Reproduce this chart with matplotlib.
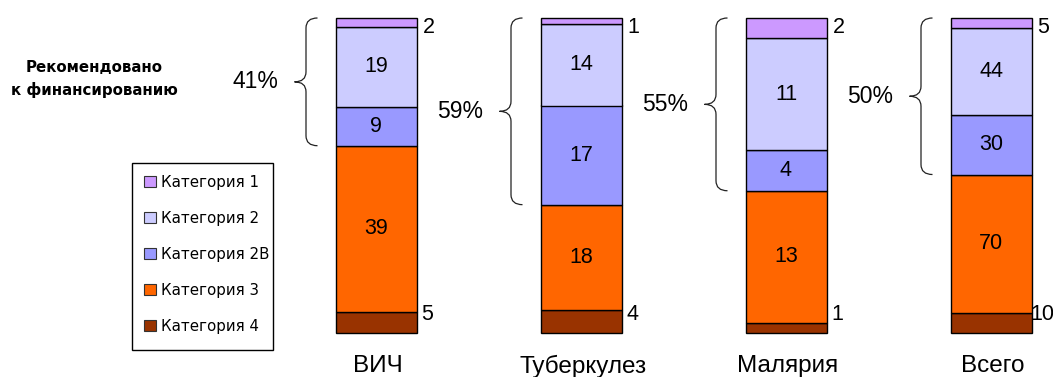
import numpy as np
import matplotlib
matplotlib.use('Agg')
import matplotlib.pyplot as plt
from matplotlib.patches import Patch, Rectangle, PathPatch
from matplotlib.path import Path

# data: number of proposals per category for each disease
groups = ['ВИЧ', 'Туберкулез', 'Малярия', 'Всего']
categories = ['Категория 4', 'Категория 3', 'Категория 2B', 'Категория 2', 'Категория 1']
cat4 = [5, 4, 1, 10]
cat3 = [39, 18, 13, 70]
cat2b = [9, 17, 4, 30]
cat2 = [19, 14, 11, 44]
cat1 = [2, 1, 2, 5]
colors = ['#993300', '#FF6600', '#9999FF', '#CCCCFF', '#CC99FF']

series = np.array([cat4, cat3, cat2b, cat2, cat1], dtype=float)
totals = series.sum(axis=0)
shares = series / totals  # every bar is normalised to 1

W, H = 1053, 377
fig = plt.figure(figsize=(W / 100, H / 100), dpi=100)
ax = fig.add_axes([0, 0, 1, 1])
py = 315.0  # pixels per unit of bar height
ax.set_xlim(0, W)
ax.set_ylim(-44 / py, 1 + 18 / py)
ax.axis('off')

num_font = 'Liberation Sans'
x = 376 + 205 * np.arange(len(groups))
bw = 81

bottom = np.zeros(len(groups))
for i, (vals, col) in enumerate(zip(shares, colors)):
    ax.bar(x, vals, bw, bottom=bottom, color=col, edgecolor='black', linewidth=1.0, zorder=2)
    for j in range(len(groups)):
        raw = int(series[i, j])
        if i in (1, 2, 3):
            ax.text(x[j], bottom[j] + vals[j] / 2, str(raw), ha='center', va='center',
                    fontsize=15.5, family=num_font, zorder=3)
        elif i == 0:
            ax.text(x[j] + bw / 2 + 11, 0.058, str(raw), ha='center', va='center',
                    fontsize=15.5, family=num_font, zorder=3)
        else:
            ax.text(x[j] + bw / 2 + 12, 0.971, str(raw), ha='center', va='center',
                    fontsize=15.5, family=num_font, zorder=3)
    bottom += vals

# group names under the bars
for j, g in enumerate(groups):
    ax.text(x[j] + 2, -33 / py, g, ha='center', va='center', fontsize=17.5, family=num_font)


def brace(ax, tip, y_top, y_bot, width=23, r=10):
    # curly brace pointing left, size given in pixels
    xe = tip + width
    xm = tip + width / 2
    yc = (y_top + y_bot) / 2
    rr = r / py
    verts = [(xe, y_top), (xm, y_top), (xm, y_top - rr),
             (xm, yc + rr),
             (xm, yc), (tip, yc),
             (xm, yc), (xm, yc - rr),
             (xm, y_bot + rr),
             (xm, y_bot), (xe, y_bot)]
    codes = [Path.MOVETO, Path.CURVE3, Path.CURVE3,
             Path.LINETO,
             Path.CURVE3, Path.CURVE3,
             Path.CURVE3, Path.CURVE3,
             Path.LINETO,
             Path.CURVE3, Path.CURVE3]
    ax.add_patch(PathPatch(Path(verts, codes), facecolor='none', edgecolor='#222222', lw=0.9))
    return yc


# braces over the recommended categories (1, 2, 2B)
funded = series[2:].sum(axis=0)
for j in range(len(groups)):
    tip = x[j] - bw / 2 - 41
    y_bot = shares[0, j] + shares[1, j]
    yc = brace(ax, tip, 1.0, y_bot)
    pct = int(round(100 * funded[j] / totals[j]))
    ax.text(tip - 16, yc, f'{pct}%', ha='right', va='center', fontsize=16.5, family=num_font)

fig.text(94 / W, 1 - 79 / H, 'Рекомендовано\nк финансированию', ha='center', va='center',
         fontsize=10.8, fontweight='bold', family='DejaVu Sans', linespacing=1.5)

# legend: frame drawn separately so its size can be set
fig.patches.append(Rectangle((132 / W, 1 - 350 / H), 141 / W, 187 / H, transform=fig.transFigure,
                             facecolor='white', edgecolor='black', linewidth=1.0, zorder=1))
handles = [Patch(facecolor=c, edgecolor='#333333', linewidth=0.8) for c in colors[::-1]]
leg = fig.legend(handles, categories[::-1], loc='upper left',
                 bbox_to_anchor=(132 / W, 1 - 163 / H), borderaxespad=0,
                 prop={'family': 'DejaVu Sans', 'size': 10.8},
                 handlelength=0.85, handleheight=0.85, handletextpad=0.3,
                 labelspacing=1.4, borderpad=0.78, frameon=False)

fig.savefig('out.png', dpi=100)
